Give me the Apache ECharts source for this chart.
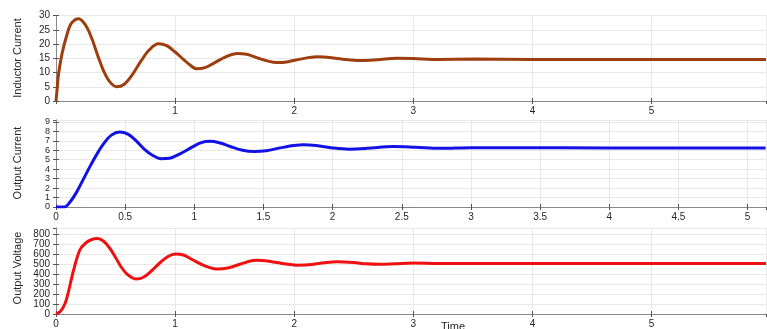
<!DOCTYPE html>
<html><head><meta charset="utf-8">
<script src="https://cdn.jsdelivr.net/npm/echarts@6/dist/echarts.min.js"></script>
<style>html,body{margin:0;padding:0;background:#fff}#c{width:767px;height:329px}</style>
</head><body><div id="c"></div>
<script>
// ---- data ----
const tInductor = [0, 0.01, 0.02, 0.05, 0.09, 0.13, 0.19, 0.25, 0.3, 0.35, 0.4, 0.45, 0.51, 0.57, 0.64, 0.71, 0.78, 0.86, 0.93, 1.0, 1.07, 1.12, 1.18, 1.25, 1.33, 1.42, 1.52, 1.6, 1.7, 1.78, 1.85, 1.95, 2.05, 2.19, 2.3, 2.42, 2.55, 2.7, 2.86, 3.0, 3.2, 3.5, 4.0, 5.0, 5.96];
const inductorCurrent = [0, 4.5, 9, 16.5, 23, 27.3, 28.9, 26.5, 22, 16, 10.5, 6.8, 5.0, 5.8, 9.2, 13.8, 17.8, 20.1, 19.4, 17.2, 14.6, 12.8, 11.3, 11.7, 13.4, 15.4, 16.7, 16.4, 15.0, 14.0, 13.5, 13.8, 14.7, 15.5, 15.3, 14.6, 14.2, 14.5, 15.0, 14.9, 14.6, 14.7, 14.6, 14.6, 14.6];

const tOutCurrent = [0, 0.06, 0.1, 0.15, 0.2, 0.25, 0.3, 0.35, 0.4, 0.46, 0.52, 0.58, 0.64, 0.7, 0.76, 0.82, 0.9, 0.98, 1.05, 1.11, 1.18, 1.26, 1.35, 1.43, 1.52, 1.62, 1.72, 1.79, 1.88, 2.0, 2.12, 2.25, 2.44, 2.6, 2.78, 3.0, 3.3, 4.0, 5.13];
const outputCurrent = [0, 0, 0.5, 1.6, 3.0, 4.4, 5.7, 6.8, 7.6, 7.93, 7.7, 7.0, 6.1, 5.45, 5.1, 5.15, 5.65, 6.3, 6.8, 6.94, 6.8, 6.4, 6.0, 5.87, 5.95, 6.25, 6.5, 6.58, 6.5, 6.25, 6.12, 6.2, 6.4, 6.32, 6.2, 6.27, 6.26, 6.25, 6.25];

const tVoltage = [0, 0.04, 0.076, 0.1, 0.146, 0.2, 0.25, 0.3, 0.347, 0.4, 0.45, 0.5, 0.55, 0.6, 0.67, 0.73, 0.8, 0.87, 0.94, 1.0, 1.07, 1.15, 1.25, 1.36, 1.45, 1.55, 1.68, 1.8, 1.9, 2.02, 2.15, 2.25, 2.36, 2.5, 2.6, 2.72, 2.85, 3.0, 3.2, 3.5, 4.0, 5.0, 5.96];
const outputVoltage = [0, 30, 105, 200, 430, 640, 712, 745, 755, 728, 660, 565, 465, 395, 351, 365, 430, 510, 575, 601, 590, 540, 482, 449, 462, 500, 537, 525, 505, 488, 495, 512, 523, 515, 502, 497, 503, 510, 506, 505, 505, 505, 505];

const yLabels = ['Inductor Current', 'Output Current', 'Output Voltage'];
const xTitle = 'Time';

// ---- chart ----
const pair = (t, v) => t.map((x, i) => [x, v[i]]);
const FONT = "'Liberation Sans', Arial, sans-serif";
const AX = '#8a8a8a';
const GRIDC = '#e8e8e8';

const grids = [
  {left: 56, right: 1, top: 15.5, height: 85.5},
  {left: 56, right: 1, top: 120, height: 87},
  {left: 56, right: 1, top: 228, height: 88.3}
];
const xCfg = [
  {max: 5.96, interval: 1, hideMin: true},
  {max: 5.133, interval: 0.5, hideMin: false},
  {max: 5.96, interval: 1, hideMin: false}
];
const yCfg = [
  {max: 30, interval: 5, showMax: true, fs: 10},
  {max: 9.2, interval: 1, showMax: false, fs: 9},
  {max: 860, interval: 100, showMax: false, fs: 10}
];

const xAxis = [], yAxis = [];
grids.forEach((g, i) => {
  xAxis.push({
    type: 'value', gridIndex: i, min: 0, max: xCfg[i].max, interval: xCfg[i].interval,
    axisLine: {show: true, lineStyle: {color: AX, width: 1}},
    axisTick: {show: true, inside: true, length: 3, lineStyle: {color: '#555'}},
    splitLine: {show: true, lineStyle: {color: GRIDC, width: 1}},
    axisLabel: {show: true, margin: 5, fontFamily: FONT, fontSize: 10, color: '#262626',
      showMaxLabel: false, showMinLabel: !xCfg[i].hideMin}
  });
  xAxis.push({
    type: 'value', gridIndex: i, position: 'top', min: 0, max: xCfg[i].max, interval: xCfg[i].interval,
    axisLine: {show: true, lineStyle: {color: AX, width: 1}},
    axisTick: {show: true, inside: true, length: 3, lineStyle: {color: '#555'}},
    splitLine: {show: false}, axisLabel: {show: false}
  });
  yAxis.push({
    type: 'value', gridIndex: i, min: 0, max: yCfg[i].max, interval: yCfg[i].interval,
    axisLine: {show: true, lineStyle: {color: AX, width: 1}},
    axisTick: {show: true, inside: true, length: 3, lineStyle: {color: '#555'}},
    splitLine: {show: true, lineStyle: {color: GRIDC, width: 1}},
    axisLabel: {show: true, margin: 6, fontFamily: FONT, fontSize: yCfg[i].fs, lineHeight: 8, color: '#262626',
      showMaxLabel: yCfg[i].showMax, showMinLabel: true, hideOverlap: false}
  });
  yAxis.push({
    type: 'value', gridIndex: i, position: 'right', min: 0, max: yCfg[i].max, interval: yCfg[i].interval,
    axisLine: {show: true, lineStyle: {color: AX, width: 1}},
    axisTick: {show: true, inside: true, length: 3, lineStyle: {color: '#555'}},
    splitLine: {show: false}, axisLabel: {show: false}
  });
});

const mk = (i, t, v, color) => ({
  type: 'line', xAxisIndex: 2 * i, yAxisIndex: 2 * i, data: pair(t, v),
  showSymbol: false, smooth: 0.35, clip: true,
  lineStyle: {color: color, width: 3}, itemStyle: {color: color}
});

const labelY = [58, 163, 268];
const graphic = yLabels.map((s, i) => ({
  type: 'text', x: 17.5, y: labelY[i], rotation: Math.PI / 2,
  style: {text: s, font: "11px 'Liberation Sans Narrow', 'Liberation Sans', Arial, sans-serif",
    fill: '#262626', align: 'center', verticalAlign: 'middle'}
}));
graphic.push({
  type: 'text', x: 453, y: 327,
  style: {text: xTitle, font: "11px 'Liberation Sans', Arial, sans-serif", fill: '#262626',
    align: 'center', verticalAlign: 'middle'}
});

const chart = echarts.init(document.getElementById('c'), null, {renderer: 'canvas'});
chart.setOption({
  animation: false,
  backgroundColor: '#ffffff',
  grid: grids,
  xAxis: xAxis,
  yAxis: yAxis,
  graphic: graphic,
  series: [
    mk(0, tInductor, inductorCurrent, '#9e3e0f'),
    mk(1, tOutCurrent, outputCurrent, '#1212e6'),
    mk(2, tVoltage, outputVoltage, '#f01010')
  ]
});
</script></body></html>
